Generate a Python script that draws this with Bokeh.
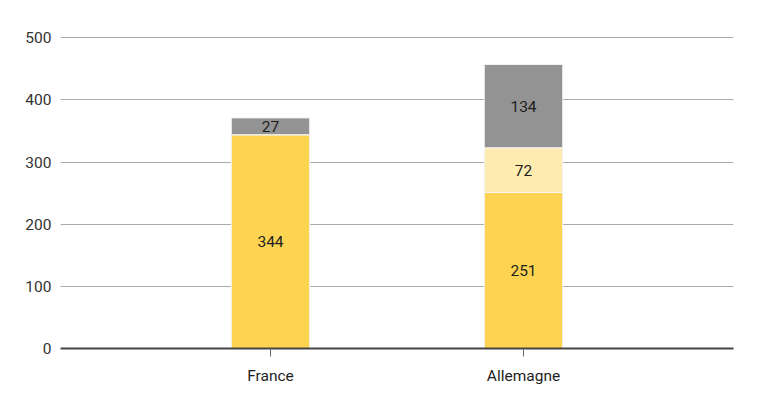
from bokeh.plotting import figure
from bokeh.models import ColumnDataSource, FactorRange, Range1d
from bokeh.core.properties import value
from bokeh.embed import file_html
from bokeh.resources import INLINE

countries = ["France", "Allemagne"]
s1 = [344, 251]
s2 = [0, 72]
s3 = [27, 134]
y_ticks = [0, 100, 200, 300, 400, 500]

FONT = "Roboto"

src = ColumnDataSource(dict(x=countries, s1=s1, s2=s2, s3=s3))

p = figure(x_range=FactorRange(*countries, range_padding=0.33, range_padding_units="absolute"),
           y_range=Range1d(0, 502),
           width=761, height=397, output_backend="svg", toolbar_location=None,
           min_border_left=60, min_border_right=28, min_border_top=36, min_border_bottom=49)
p.outline_line_color = None
p.background_fill_color = "white"
p.border_fill_color = "white"

p.vbar_stack(["s1", "s2", "s3"], x="x", width=0.31, source=src,
             color=["#FDD451", "#FEEBB0", "#939393"], line_color="#f4f4f4", line_width=1)

# labels at segment centres
lx, ly, lt = [], [], []
for i, c in enumerate(countries):
    base = 0
    for v in (s1[i], s2[i], s3[i]):
        if v > 0:
            lx.append(c); ly.append(base + v / 2); lt.append(str(v))
        base += v
p.text(x=lx, y=ly, text=lt, text_align="center", text_baseline="middle",
       text_font=value(FONT), text_font_size="15.5px", text_color="#1e1e1e")

p.yaxis.ticker = y_ticks
p.yaxis.axis_line_color = None
p.yaxis.major_tick_line_color = None
p.yaxis.minor_tick_line_color = None
p.yaxis.major_tick_out = 0
p.yaxis.major_tick_in = 0
p.yaxis.major_label_standoff = 9
p.yaxis.major_label_text_font = FONT
p.yaxis.major_label_text_font_size = "15.5px"
p.yaxis.major_label_text_color = "#333333"

p.xaxis.axis_line_color = "#444444"
p.xaxis.axis_line_width = 2
p.xaxis.major_tick_line_color = "#666666"
p.xaxis.major_tick_line_width = 1
p.xaxis.major_tick_out = 8
p.xaxis.major_tick_in = 0
p.xaxis.major_label_standoff = 10
p.xaxis.major_label_text_font = FONT
p.xaxis.major_label_text_font_size = "15.5px"
p.xaxis.major_label_text_color = "#1e1e1e"

p.xgrid.grid_line_color = None
p.ygrid.grid_line_color = "#aaaaaa"
p.ygrid.grid_line_width = 1

open("out.html", "w").write(file_html(p, INLINE))
